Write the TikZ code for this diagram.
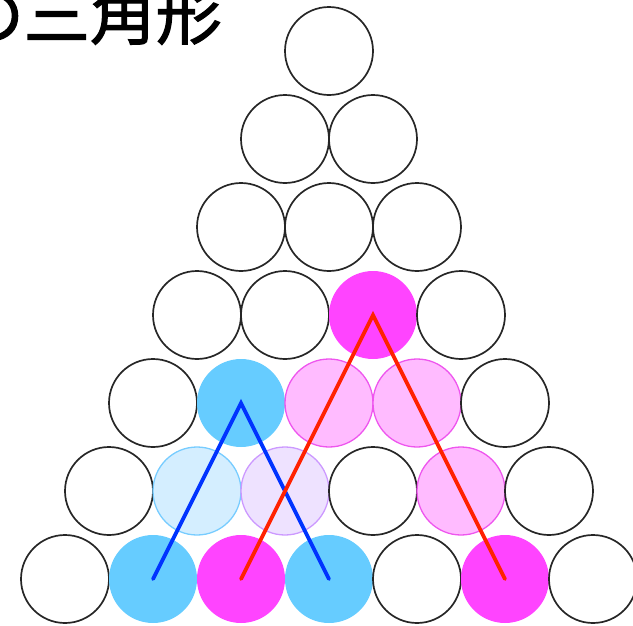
\documentclass[tikz,border=0pt]{standalone}
\usepackage{fontspec}
\newfontfamily\cjk[FakeBold=1.8]{Noto Sans CJK JP}
\definecolor{cblue}{HTML}{66CCFF}
\definecolor{cmag}{HTML}{FF44FF}
\definecolor{lmag}{HTML}{FFBBFF}
\definecolor{lmagline}{HTML}{EE55EE}
\definecolor{lblue}{HTML}{D4EEFF}
\definecolor{lblueline}{HTML}{77CCFF}
\definecolor{lvio}{HTML}{EEE2FF}
\definecolor{lvioline}{HTML}{CC99FF}
\definecolor{lineblue}{HTML}{0033FF}
\definecolor{linered}{HTML}{FF2200}
\tikzset{
  ball/.style={circle, minimum size=88pt, inner sep=0pt, draw=black!85, line width=1.7pt, fill=white},
  bluefull/.style={ball, draw=none, fill=cblue},
  magfull/.style={ball, draw=none, fill=cmag},
  maglight/.style={ball, draw=lmagline, line width=1.3pt, fill=lmag},
  bluelight/.style={ball, draw=lblueline, line width=1.3pt, fill=lblue},
  violight/.style={ball, draw=lvioline, line width=1.3pt, fill=lvio},
  pathline/.style={line width=3.8pt, line cap=round, line join=miter},
}
\begin{document}
\begin{tikzpicture}[x=1pt,y=-1pt]
\useasboundingbox (0,0) rectangle (633,625);
\clip (0,0) rectangle (633,625);
\node[anchor=base east, inner sep=0pt, font=\cjk\fontsize{66}{66}\selectfont] (title) at (222,39) {の三角形};
% row 0
\node[ball] (r0c0) at (329,51) {};
% row 1
\node[ball] (r1c0) at (285,139) {};
\node[ball] (r1c1) at (373,139) {};
% row 2
\node[ball] (r2c0) at (241,227) {};
\node[ball] (r2c1) at (329,227) {};
\node[ball] (r2c2) at (417,227) {};
% row 3
\node[ball] (r3c0) at (197,315) {};
\node[ball] (r3c1) at (285,315) {};
\node[magfull] (r3c2) at (373,315) {};
\node[ball] (r3c3) at (461,315) {};
% row 4
\node[ball] (r4c0) at (153,403) {};
\node[bluefull] (r4c1) at (241,403) {};
\node[maglight] (r4c2) at (329,403) {};
\node[maglight] (r4c3) at (417,403) {};
\node[ball] (r4c4) at (505,403) {};
% row 5
\node[ball] (r5c0) at (109,491) {};
\node[bluelight] (r5c1) at (197,491) {};
\node[violight] (r5c2) at (285,491) {};
\node[ball] (r5c3) at (373,491) {};
\node[maglight] (r5c4) at (461,491) {};
\node[ball] (r5c5) at (549,491) {};
% row 6
\node[ball] (r6c0) at (65,579) {};
\node[bluefull] (r6c1) at (153,579) {};
\node[magfull] (r6c2) at (241,579) {};
\node[bluefull] (r6c3) at (329,579) {};
\node[ball] (r6c4) at (417,579) {};
\node[magfull] (r6c5) at (505,579) {};
\node[ball] (r6c6) at (593,579) {};
% paths
\draw[pathline, lineblue] (r6c1.center) -- (r4c1.center) -- (r6c3.center);
\draw[pathline, linered] (r6c2.center) -- (r3c2.center) -- (r6c5.center);
\end{tikzpicture}
\end{document}
